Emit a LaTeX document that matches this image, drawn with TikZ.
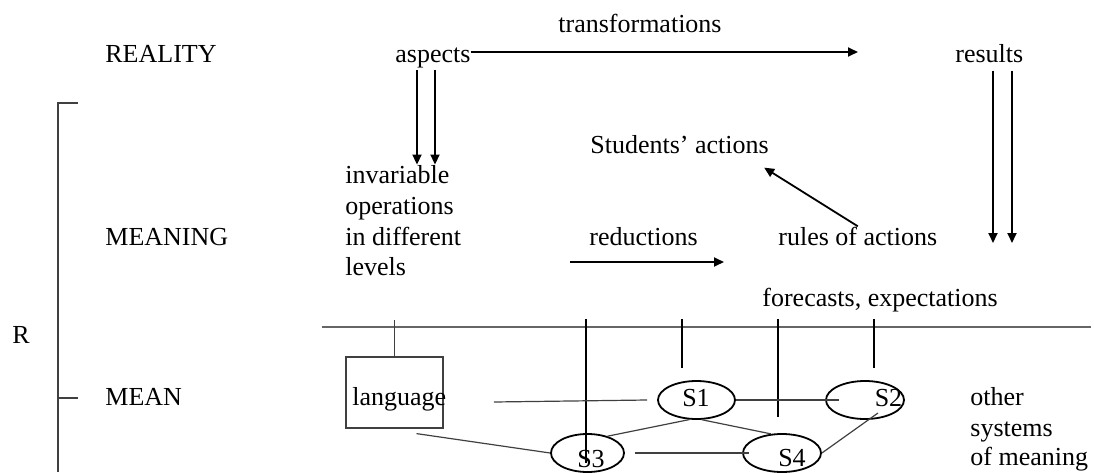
\documentclass[tikz,border=0pt]{standalone}
\usepackage{fontspec}
\setmainfont{Liberation Serif}
\usetikzlibrary{arrows.meta,shapes.geometric}

\begin{document}
\begin{tikzpicture}[x=0.5pt, y=-0.5pt,
    lbl/.style={inner sep=0pt, anchor=base west, font=\fontsize{13}{15}\selectfont},
    sys/.style={draw, ellipse, line width=0.9pt, minimum height=19pt, inner sep=0pt},
    arr/.style={-{Triangle[length=5pt,width=4.5pt]}, line width=0.9pt},
    bar/.style={line width=0.9pt},
    thinline/.style={line width=0.6pt, black!75}]
  \useasboundingbox (0,0) rectangle (1094,472);
  % levels
  \node[lbl] (real) at (105,62) {REALITY};
  \node[lbl] (mning) at (105,245) {MEANING};
  \node[lbl] (mean) at (105,405) {MEAN};
  \node[lbl] (rr) at (12,343) {R};
  \draw[thinline] (78,103) -- (58,103) -- (58,472);
  \draw[thinline] (58,398) -- (78,398);
  % reality
  \node[lbl] (asp) at (395,62) {aspects};
  \node[lbl] (trf) at (558,32) {transformations};
  \node[lbl] (res) at (955,62) {results};
  \coordinate (trEnd) at (858,52);
  \draw[arr] (asp.east |- trEnd) -- (trEnd);
  % meaning
  \foreach \t/\yy [count=\i] in {invariable/183, operations/214, in different/245, levels/275}
    \node[lbl] (inv\i) at (345,\yy) {\t};
  \foreach \xx in {417,435}
    \draw[arr] (asp.south -| \xx,0) ++(0,2) -- (inv1.north -| \xx,0);
  \foreach \xx in {993,1012}{
    \coordinate (resEnd) at (\xx,243);
    \draw[arr] (res.south -| resEnd) ++(0,8) -- (resEnd);
  }
  \node[lbl] (stu) at (590,153) {Students’ actions};
  \node[lbl] (red) at (589,245) {reductions};
  \node[lbl] (rul) at (778,245) {rules of actions};
  \node[lbl] (fore) at (762,306) {forecasts, expectations};
  \draw[arr] (rul.north) -- ([shift={(-5,14)}]stu.south east);
  \coordinate (redA) at (570,262);
  \coordinate (redB) at (724,262);
  \draw[arr] (redA) -- (redB);
  % mean
  \coordinate (hlA) at (322,327);
  \coordinate (hlB) at (1091,327);
  \draw[line width=0.7pt, black!60] (hlA) -- (hlB);
  \node[draw, thinline, rectangle, minimum width=48.5pt, minimum height=35.5pt, inner sep=0pt] (langbox) at (394.5,392.5) {};
  \node[lbl] (lang) at (352,405) {language};
  \draw[thinline] (langbox.north) -- (langbox.north |- 0,320);
  \foreach \n/\cx/\cy/\w/\tx/\ty in {S1/696.5/400/38.5/696/406, S2/865/400/39/888.5/406,
                                     S3/587.5/453/36.5/591/467, S4/782/453/39/792/466}{
    \node[sys, minimum width=\w pt] (\n) at (\cx,\cy) {};
    \node[lbl, anchor=base] (\n-t) at (\tx,\ty) {\n};
  }
  \foreach \xx/\yb in {586/463, 682/368, 778/417, 874/368}
    \draw[bar] (\xx,319) -- (\xx,\yb);
  \coordinate (mL) at (494,402);
  \draw[thinline] (mL) -- ([xshift=-5pt]S1.west);
  \draw[thinline] (S1.east) -- ([xshift=7pt]S2.west);
  \draw[thinline] ([shift={(22,5)}]langbox.south) -- (S3.west);
  \draw[thinline] (S3.40) -- (S1.250);
  \draw[thinline] (S1.285) -- (S4.120);
  \draw[thinline] ([xshift=5pt]S3.east) -- ([xshift=3.5pt]S4.west);
  \draw[thinline] (S4.east) -- ([shift={(13,13)}]S2.center);
  \foreach \t/\yy [count=\i] in {other/405, systems/436, of meaning/465}
    \node[lbl] (oth\i) at (970,\yy) {\t};
\end{tikzpicture}
\end{document}
